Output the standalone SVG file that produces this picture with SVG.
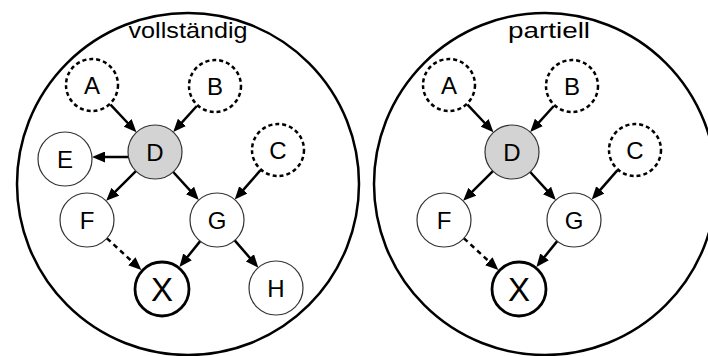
<svg xmlns="http://www.w3.org/2000/svg" width="708" height="356" viewBox="0 0 708 356">
<style>
.frame{fill:none;stroke:#000;stroke-width:2.5}
.title{font-family:"Liberation Sans",Arial,sans-serif;font-size:22px;fill:#000}
.n{fill:#fff;stroke:#333;stroke-width:1.2}
.ext{fill:#fff;stroke:#000;stroke-width:2.5;stroke-dasharray:4 3}
.obs{fill:#d3d3d3;stroke:#333;stroke-width:1.2}
.tgt{fill:#fff;stroke:#000;stroke-width:2.8}
.lbl{font-family:"Liberation Sans",Arial,sans-serif;font-size:24px;fill:#000;text-anchor:middle}
.big{font-size:33px}
.e{stroke:#000;stroke-width:2.5;fill:none;marker-end:url(#ah)}
.d{stroke-dasharray:5 4}
</style>
<defs>
<marker id="ah" markerUnits="userSpaceOnUse" markerWidth="13" markerHeight="11" refX="5" refY="5.5" orient="auto">
<path d="M0,0 L13,5.5 L0,11 z" fill="#000"/>
</marker>
</defs>
<circle class="frame" cx="188" cy="184" r="171"/>
<circle class="frame" cx="545" cy="184" r="171"/>
<text class="title" x="188" y="38" text-anchor="middle" textLength="119" lengthAdjust="spacingAndGlyphs">vollständig</text>
<text class="title" x="549" y="38" text-anchor="middle" textLength="82" lengthAdjust="spacingAndGlyphs">partiell</text>
<g id="left-connectors">
<line class="e" x1="110.5" y1="104.7" x2="131" y2="126.5"/>
<line class="e" x1="196.8" y1="106" x2="178.6" y2="126.1"/>
<line class="e" x1="128.5" y1="157" x2="100" y2="157"/>
<line class="e" x1="135.9" y1="171.1" x2="111.8" y2="195.2"/>
<line class="e" x1="173.2" y1="172" x2="193.4" y2="194.1"/>
<line class="e" x1="260.3" y1="170.4" x2="240" y2="193.6"/>
<line class="e d" x1="106.9" y1="238.3" x2="135.5" y2="264.6"/>
<line class="e" x1="200.2" y1="241.1" x2="184.4" y2="260.8"/>
<line class="e" x1="234.7" y1="240.4" x2="253.1" y2="261.6"/>
</g>
<g id="right-connectors" transform="translate(357,0)">
<line class="e" x1="110.5" y1="104.7" x2="131" y2="126.5"/>
<line class="e" x1="196.8" y1="106" x2="178.6" y2="126.1"/>
<line class="e" x1="135.9" y1="171.1" x2="111.8" y2="195.2"/>
<line class="e" x1="173.2" y1="172" x2="193.4" y2="194.1"/>
<line class="e" x1="260.3" y1="170.4" x2="240" y2="193.6"/>
<line class="e d" x1="106.9" y1="238.3" x2="135.5" y2="264.6"/>
<line class="e" x1="200.2" y1="241.1" x2="184.4" y2="260.8"/>
</g>
<g id="left-nodes">
<g id="L-A"><circle class="ext" cx="92" cy="85" r="26"/><text class="lbl" x="92" y="93.5">A</text></g>
<g id="L-B"><circle class="ext" cx="215" cy="86" r="26"/><text class="lbl" x="215" y="94.5">B</text></g>
<g id="L-C"><circle class="ext" cx="278" cy="150" r="26"/><text class="lbl" x="278" y="158.5">C</text></g>
<g id="L-D"><circle class="obs" cx="155" cy="152" r="27"/><text class="lbl" x="155" y="160.5">D</text></g>
<g id="L-E"><circle class="n" cx="65" cy="159" r="27"/><text class="lbl" x="65" y="167.5">E</text></g>
<g id="L-F"><circle class="n" cx="87" cy="220" r="27"/><text class="lbl" x="87" y="228.5">F</text></g>
<g id="L-G"><circle class="n" cx="217" cy="220" r="27"/><text class="lbl" x="217" y="228.5">G</text></g>
<g id="L-X"><circle class="tgt" cx="162" cy="289" r="27"/><text class="lbl big" x="162" y="301">X</text></g>
<g id="L-H"><circle class="n" cx="276" cy="288" r="27"/><text class="lbl" x="276" y="296.5">H</text></g>
</g>
<g id="right-nodes" transform="translate(357,0)">
<g id="R-A"><circle class="ext" cx="92" cy="85" r="26"/><text class="lbl" x="92" y="93.5">A</text></g>
<g id="R-B"><circle class="ext" cx="215" cy="86" r="26"/><text class="lbl" x="215" y="94.5">B</text></g>
<g id="R-C"><circle class="ext" cx="278" cy="150" r="26"/><text class="lbl" x="278" y="158.5">C</text></g>
<g id="R-D"><circle class="obs" cx="155" cy="152" r="27"/><text class="lbl" x="155" y="160.5">D</text></g>
<g id="R-F"><circle class="n" cx="87" cy="220" r="27"/><text class="lbl" x="87" y="228.5">F</text></g>
<g id="R-G"><circle class="n" cx="217" cy="220" r="27"/><text class="lbl" x="217" y="228.5">G</text></g>
<g id="R-X"><circle class="tgt" cx="162" cy="289" r="27"/><text class="lbl big" x="162" y="301">X</text></g>
</g>
</svg>
